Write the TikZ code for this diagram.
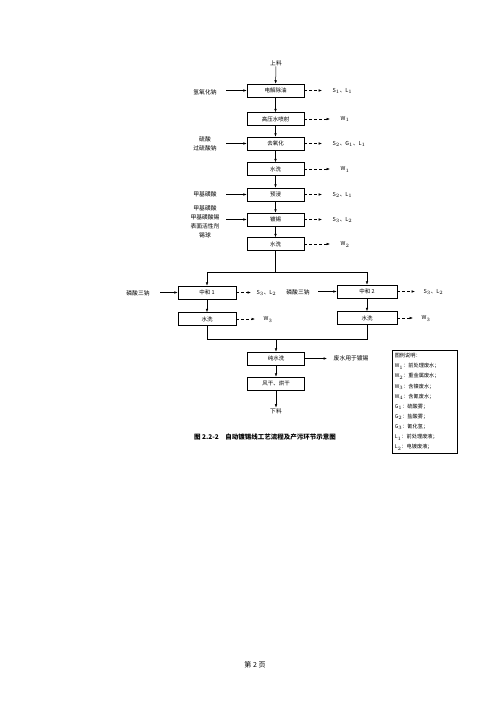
\documentclass[tikz,border=0pt]{standalone}
\usepackage{fontspec}
\setmainfont{Noto Sans CJK SC}
\usetikzlibrary{arrows.meta}
\begin{document}
\begin{tikzpicture}[x=1pt,y=-1pt,
  stepbox/.style={draw, line width=0.5pt, minimum width=57pt, minimum height=13pt, inner sep=0pt, font=\fontsize{5.5}{6.5}\selectfont},
  lbl/.style={inner sep=0.5pt, font=\fontsize{5.8}{9}\selectfont, align=center},
  outlbl/.style={inner sep=0.5pt, anchor=west, font=\fontsize{5.5}{6.5}\selectfont},
  flow/.style={-{Latex[length=3.5pt,width=2.6pt]}, line width=0.5pt},
  plainline/.style={line width=0.5pt},
  waste/.style={densely dashed, -{Latex[length=3.5pt,width=2.6pt]}, line width=0.5pt, shorten >=10pt}]
\useasboundingbox (0,0) rectangle (500,707);
\fill[white] (0,0) rectangle (500,707);

% main column
\node[lbl] (top) at (276,63) {上料};
\node[stepbox] (b1) at (275.5,90.5) {电解除油};
\node[stepbox] (b2) at (275.5,119) {高压水喷射};
\node[stepbox] (b3) at (275.5,143.5) {去氧化};
\node[stepbox] (b4) at (275.5,169) {水洗};
\node[stepbox] (b5) at (275.5,194.5) {预浸};
\node[stepbox] (b6) at (275.5,219.5) {镀锡};
\node[stepbox] (b7) at (275.5,244) {水洗};

\draw[flow] (top) -- (b1);
\draw[flow] (b1) -- (b2);
\draw[flow] (b2) -- (b3);
\draw[flow] (b3) -- (b4);
\draw[flow] (b4) -- (b5);
\draw[flow] (b5) -- (b6);
\draw[flow] (b6) -- (b7);

% inputs
\node[lbl] (i1) at (205,92) {氢氧化钠};
\node[lbl] (i2) at (205,143.5) {硫酸\\过硫酸钠};
\node[lbl] (i3) at (205,194) {甲基磺酸};
\node[lbl] (i4) at (205,221.5) {甲基磺酸\\甲基磺酸锡\\表面活性剂\\锡球};
\coordinate (a1) at (226,90.5);
\coordinate (a2) at (226,143.5);
\coordinate (a3) at (226,194.5);
\coordinate (a4) at (226,219.5);
\draw[flow] (a1) -- (b1);
\draw[flow] (a2) -- (b3);
\draw[flow] (a3) -- (b5);
\draw[flow] (a4) -- (b6);

% outputs
\node[outlbl] (o1) at (332,91) {S$_1$、L$_1$};
\node[outlbl] (o2) at (340,119) {W$_1$};
\node[outlbl] (o3) at (332,144) {S$_2$、G$_1$、L$_1$};
\node[outlbl] (o4) at (340,169.5) {W$_1$};
\node[outlbl] (o5) at (332,195) {S$_2$、L$_1$};
\node[outlbl] (o6) at (332,220) {S$_3$、L$_2$};
\node[outlbl] (o7) at (340,244.5) {W$_2$};
\draw[waste] (b1) -- (b1.east -| o1.west);
\draw[waste] (b2) -- (b2.east -| o2.west);
\draw[waste] (b3) -- (b3.east -| o3.west);
\draw[waste] (b4) -- (b4.east -| o4.west);
\draw[waste] (b5) -- (b5.east -| o5.west);
\draw[waste] (b6) -- (b6.east -| o6.west);
\draw[waste] (b7) -- (b7.east -| o7.west);

% split
\coordinate (sp) at (275.5,272);
\node[stepbox, minimum width=58pt] (n1) at (207,292.5) {中和 1};
\node[stepbox, minimum width=58pt] (w1) at (207,319) {水洗};
\node[stepbox, minimum width=60pt] (n2) at (367,291.5) {中和 2};
\node[stepbox, minimum width=60pt] (w2) at (367,318) {水洗};
\draw[plainline] (b7) -- (sp);
\draw[flow] (sp) -| (n1);
\draw[flow] (sp) -| (n2);
\draw[flow] (n1) -- (w1);
\draw[flow] (n2) -- (w2);

\node[lbl] (p1) at (138,293) {磷酸三钠};
\node[lbl] (p2) at (298,292) {磷酸三钠};
\coordinate (c1) at (160,292.5);
\coordinate (c2) at (318,291.5);
\draw[flow] (c1) -- (n1);
\draw[flow] (c2) -- (n2);

\node[outlbl] (q1) at (256,293) {S$_3$、L$_2$};
\node[outlbl] (q2) at (263,319.5) {W$_3$};
\node[outlbl] (q3) at (423,292) {S$_3$、L$_2$};
\node[outlbl] (q4) at (421,318.5) {W$_3$};
\draw[waste, shorten >=5pt] (n1) -- (n1.east -| q1.west);
\draw[waste, shorten >=8pt] (w1) -- (w1.east -| q2.west);
\draw[waste, shorten >=8pt] (n2) -- (n2.east -| q3.west);
\draw[waste, shorten >=8pt] (w2) -- (w2.east -| q4.west);

% merge
\coordinate (mg) at (276,339);
\node[stepbox] (pw) at (276,358.5) {纯水洗};
\node[stepbox] (dr) at (276,383.5) {风干、烘干};
\node[lbl] (bot) at (276,411) {下料};
\draw[plainline] (w1) |- (mg);
\draw[plainline] (w2) |- (mg);
\draw[flow] (mg) -- (pw);
\draw[flow] (pw) -- (dr);
\draw[flow] (dr) -- (bot);

\node[lbl, anchor=west] (re) at (333,358.5) {废水用于镀锡};
\draw[flow, shorten >=6pt] (pw) -- (re);

% legend
\node[draw, line width=0.5pt, anchor=north west, text width=60pt, minimum height=103pt, inner sep=2.5pt, align=left,
  font=\fontsize{5.2}{10.1}\selectfont] (leg) at (392,350)
  {图例说明：\\
   W$_1$：前处理废水；\\
   W$_2$：重金属废水；\\
   W$_3$：含镍废水；\\
   W$_4$：含氰废水；\\
   G$_1$：硫酸雾；\\
   G$_2$：盐酸雾；\\
   G$_3$：氰化氢；\\
   L$_1$：前处理废液；\\
   L$_2$：电镀废液；};

% caption and page
\node[inner sep=0pt, font=\fontsize{6.5}{7}\selectfont\bfseries] (cap) at (265,437) {图 2.2-2\quad 自动镀锡线工艺流程及产污环节示意图};
\node[inner sep=0pt, font=\fontsize{7}{8}\selectfont] (pg) at (255,665) {第 2 页};
\end{tikzpicture}
\end{document}
